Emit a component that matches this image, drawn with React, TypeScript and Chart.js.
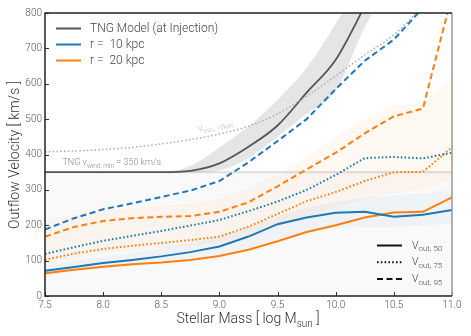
import React, { useEffect, useRef } from "react";
import { Chart, registerables } from "chart.js";
Chart.register(...registerables);

const FONT = "Roboto, 'Open Sans', 'DejaVu Sans', sans-serif";
const W = "300";

const MASS = [7.5, 7.75, 8.0, 8.25, 8.5, 8.75, 9.0, 9.25, 9.5, 9.75, 10.0, 10.25, 10.5, 10.75, 11.0];
const R10_V50 = [71, 82, 93, 102, 112, 124, 140, 168, 203, 222, 235, 238, 224, 230, 243];
const R20_V50 = [64, 74, 83, 90, 95, 102, 113, 131, 155, 181, 200, 222, 236, 238, 279];
const R10_V75 = [119, 138, 156, 170, 184, 199, 215, 240, 267, 300, 342, 390, 393, 389, 405];
const R20_V75 = [102, 120, 133, 142, 150, 158, 168, 196, 232, 268, 294, 325, 350, 351, 420];
const R10_V95 = [188, 220, 245, 262, 280, 298, 325, 378, 438, 500, 585, 665, 725, 815, 960];
const R20_V95 = [168, 195, 212, 220, 224, 226, 238, 265, 310, 358, 405, 460, 508, 530, 850];

const ORANGE_LO = [95, 108, 120, 128, 135, 142, 150, 170, 200, 225, 250, 275, 290, 300, 330];
const ORANGE_HI = [215, 230, 240, 248, 255, 262, 275, 305, 345, 395, 450, 500, 540, 545, 620];
const BLUE_LO = [58, 68, 78, 86, 95, 104, 115, 135, 160, 180, 190, 195, 195, 198, 205];
const BLUE_HI = [90, 100, 110, 122, 135, 150, 170, 195, 225, 250, 265, 278, 285, 290, 300];

const TNG_MASS = [7.5, 7.75, 8.0, 8.25, 8.5, 8.75, 9.0, 9.25, 9.5, 9.75, 10.0, 10.25, 10.5];
const TNG_MODEL = [350, 350, 350, 350, 350, 354, 375, 422, 482, 575, 668, 820, 980];
const TNG_LO = [350, 350, 350, 350, 350, 350, 355, 390, 450, 515, 580, 760, 900];
const TNG_HI = [350, 350, 350, 350, 350, 368, 420, 480, 555, 645, 770, 920, 1050];

const VESC_MASS = [7.5, 7.75, 8.0, 8.25, 8.5, 8.75, 9.0, 9.25, 9.5, 9.75, 10.0, 10.25, 10.5, 10.75];
const VESC_10KPC = [408, 410, 414, 420, 430, 442, 458, 480, 515, 565, 622, 682, 738, 820];

const X_TICKS = [7.5, 8.0, 8.5, 9.0, 9.5, 10.0, 10.5, 11.0];
const Y_TICKS = [0, 100, 200, 300, 400, 500, 600, 700, 800];
const V_WIND_MIN = 350;

const BLUE = "#1f77b4";
const ORANGE = "#ff7f0e";
const TNG_GRAY = "#555555";
const DOT = [1.6, 2.2];
const DASH = [6, 3.5];

function xy(xs: number[], ys: number[]) {
  return ys.map((y, i) => ({ x: xs[i], y }));
}

function lineDs(xs: number[], ys: number[], color: string, dash: number[], width = 2, mono = false) {
  return {
    data: xy(xs, ys),
    borderColor: color,
    borderWidth: width,
    borderDash: dash,
    borderCapStyle: "butt",
    pointRadius: 0,
    fill: false,
    tension: 0,
    cubicInterpolationMode: mono ? "monotone" : "default",
  };
}

function bandDs(xs: number[], lo: number[], hi: number[], color: string, mono = false) {
  return [
    {
      data: xy(xs, lo),
      borderWidth: 0,
      borderColor: "rgba(0,0,0,0)",
      pointRadius: 0,
      fill: false,
      cubicInterpolationMode: mono ? "monotone" : "default",
    },
    {
      data: xy(xs, hi),
      borderWidth: 0,
      borderColor: "rgba(0,0,0,0)",
      backgroundColor: color,
      pointRadius: 0,
      fill: "-1",
      cubicInterpolationMode: mono ? "monotone" : "default",
    },
  ];
}

function drawSub(ctx: CanvasRenderingContext2D, x: number, y: number, main: string, sub: string, size: number, subSize: number, after = "") {
  ctx.font = `${W} ${size}px ${FONT}`;
  ctx.fillText(main, x, y);
  let w = ctx.measureText(main).width;
  ctx.font = `${W} ${subSize}px ${FONT}`;
  ctx.fillText(sub, x + w, y + size * 0.28);
  w += ctx.measureText(sub).width;
  if (after) {
    ctx.font = `${W} ${size}px ${FONT}`;
    ctx.fillText(after, x + w, y);
    w += ctx.measureText(after).width;
  }
  return w;
}

function measureSub(ctx: CanvasRenderingContext2D, main: string, sub: string, size: number, subSize: number, after = "") {
  ctx.font = `${W} ${size}px ${FONT}`;
  let w = ctx.measureText(main).width + ctx.measureText(after).width;
  ctx.font = `${W} ${subSize}px ${FONT}`;
  w += ctx.measureText(sub).width;
  return w;
}

const deco = {
  id: "deco",
  beforeDraw(chart: any) {
    const { ctx, chartArea: a, scales } = chart;
    const y = scales.y;
    const y350 = y.getPixelForValue(V_WIND_MIN);
    ctx.save();
    ctx.fillStyle = "rgba(0,0,0,0.025)";
    ctx.fillRect(a.left, y350, a.right - a.left, a.bottom - y350);
    ctx.strokeStyle = "#dddddd";
    ctx.lineWidth = 2;
    ctx.beginPath();
    ctx.moveTo(a.left, y350);
    ctx.lineTo(a.right, y350);
    ctx.stroke();
    ctx.restore();
  },
  afterDraw(chart: any) {
    const { ctx, chartArea: a, scales } = chart;
    const sx = scales.x;
    const sy = scales.y;
    ctx.save();
    // inward ticks
    ctx.strokeStyle = "#333";
    ctx.lineWidth = 1;
    Y_TICKS.forEach((v) => {
      const p = Math.round(sy.getPixelForValue(v)) + 0.5;
      ctx.beginPath();
      ctx.moveTo(a.left, p);
      ctx.lineTo(a.left + 4, p);
      ctx.stroke();
    });
    X_TICKS.forEach((v) => {
      const p = Math.round(sx.getPixelForValue(v)) + 0.5;
      ctx.beginPath();
      ctx.moveTo(p, a.bottom);
      ctx.lineTo(p, a.bottom - 4);
      ctx.stroke();
    });
    // spines
    ctx.lineWidth = 1.5;
    ctx.strokeStyle = "#999";
    ctx.beginPath();
    ctx.moveTo(a.right, a.top);
    ctx.lineTo(a.right, a.bottom);
    ctx.stroke();
    ctx.strokeStyle = "#222";
    ctx.beginPath();
    ctx.moveTo(a.right, a.top);
    ctx.lineTo(a.left, a.top);
    ctx.lineTo(a.left, a.bottom);
    ctx.lineTo(a.right, a.bottom);
    ctx.stroke();

    // TNG vwind,min label
    ctx.fillStyle = "#888";
    ctx.textBaseline = "alphabetic";
    ctx.textAlign = "left";
    drawSub(ctx, sx.getPixelForValue(7.65), sy.getPixelForValue(370), "TNG v", "wind, min", 9, 6.5, " = 350 km/s");

    // Vesc label rotated
    ctx.save();
    ctx.translate(sx.getPixelForValue(8.97), sy.getPixelForValue(475));
    ctx.rotate((-12 * Math.PI) / 180);
    ctx.fillStyle = "#bbb";
    const wv = measureSub(ctx, "V", "esc, 10kpc", 8.5, 6.5);
    drawSub(ctx, -wv / 2, 0, "V", "esc, 10kpc", 8.5, 6.5);
    ctx.restore();

    // top-left legend
    const leg = [
      { label: "TNG Model (at Injection)", color: TNG_GRAY },
      { label: "r =  10 kpc", color: BLUE },
      { label: "r =  20 kpc", color: ORANGE },
    ];
    ctx.textBaseline = "middle";
    leg.forEach((l, i) => {
      const yy = 28.5 + i * 16;
      ctx.strokeStyle = l.color;
      ctx.lineWidth = 2;
      ctx.setLineDash([]);
      ctx.beginPath();
      ctx.moveTo(56, yy);
      ctx.lineTo(81, yy);
      ctx.stroke();
      ctx.fillStyle = "#444";
      ctx.font = `${W} 12px ${FONT}`;
      ctx.fillText(l.label, 90, yy);
    });

    // bottom-right legend
    const leg2 = [
      { sub: "out, 50", dash: [] as number[] },
      { sub: "out, 75", dash: DOT },
      { sub: "out, 95", dash: DASH },
    ];
    leg2.forEach((l, i) => {
      const yy = 245.5 + i * 16.7;
      ctx.strokeStyle = "#111";
      ctx.lineWidth = 2;
      ctx.setLineDash(l.dash);
      ctx.beginPath();
      ctx.moveTo(377, yy);
      ctx.lineTo(402, yy);
      ctx.stroke();
      ctx.setLineDash([]);
      ctx.fillStyle = "#444";
      ctx.textBaseline = "alphabetic";
      drawSub(ctx, 412, yy + 3, "V", l.sub, 10.5, 8);
    });

    // axis titles
    ctx.fillStyle = "#333";
    ctx.textBaseline = "alphabetic";
    const wx = measureSub(ctx, "Stellar Mass [ log M", "sun", 14, 10, " ]");
    drawSub(ctx, 248 - wx / 2, 323, "Stellar Mass [ log M", "sun", 14, 10, " ]");

    ctx.save();
    ctx.translate(19, 155);
    ctx.rotate(-Math.PI / 2);
    ctx.font = `${W} 14px ${FONT}`;
    ctx.textAlign = "center";
    ctx.fillText("Outflow Velocity [ km/s ]", 0, 0);
    ctx.restore();

    ctx.restore();
  },
};

export default function App() {
  const ref = useRef<HTMLCanvasElement>(null);
  useEffect(() => {
    document.body.style.margin = "0";
    Chart.defaults.font.family = FONT;
    const datasets: any[] = [
      ...bandDs(MASS, BLUE_LO, BLUE_HI, "rgba(31,119,180,0.05)"),
      ...bandDs(MASS, ORANGE_LO, ORANGE_HI, "rgba(255,127,14,0.05)"),
      ...bandDs(TNG_MASS, TNG_LO, TNG_HI, "rgba(0,0,0,0.1)", true),
      lineDs(VESC_MASS, VESC_10KPC, "#b0b0b0", DOT, 1.5, true),
      lineDs(TNG_MASS, TNG_MODEL, TNG_GRAY, [], 1.8, true),
      lineDs(MASS, R10_V50, BLUE, []),
      lineDs(MASS, R20_V50, ORANGE, []),
      lineDs(MASS, R10_V75, BLUE, DOT),
      lineDs(MASS, R20_V75, ORANGE, DOT),
      lineDs(MASS, R10_V95, BLUE, DASH),
      lineDs(MASS, R20_V95, ORANGE, DASH),
    ];
    const chart = new Chart(ref.current!, {
      type: "line",
      data: { datasets },
      options: {
        animation: false,
        responsive: false,
        devicePixelRatio: 1,
        layout: { padding: { top: 13, right: 19, left: 0, bottom: 0 } },
        plugins: {
          legend: { display: false },
          tooltip: { enabled: false },
          filler: { drawTime: "beforeDatasetsDraw" },
        } as any,
        scales: {
          x: {
            type: "linear",
            min: 7.5,
            max: 11,
            grid: { display: false, drawTicks: false },
            border: { display: false },
            ticks: {
              stepSize: 0.5,
              callback: (v: any) => Number(v).toFixed(1),
              font: { size: 10, weight: W },
              color: "#555",
              padding: 3,
              maxRotation: 0,
              autoSkip: false,
            },
            afterFit: (s: any) => {
              s.height = 40;
            },
          },
          y: {
            min: 0,
            max: 800,
            grid: { display: false, drawTicks: false },
            border: { display: false },
            ticks: {
              stepSize: 100,
              font: { size: 10, weight: W },
              color: "#555",
              padding: 3,
            },
            afterFit: (s: any) => {
              s.width = 45;
            },
          },
        },
      } as any,
      plugins: [deco],
    });
    return () => chart.destroy();
  }, []);
  return <canvas ref={ref} width={471} height={336} style={{ display: "block" }} />;
}
